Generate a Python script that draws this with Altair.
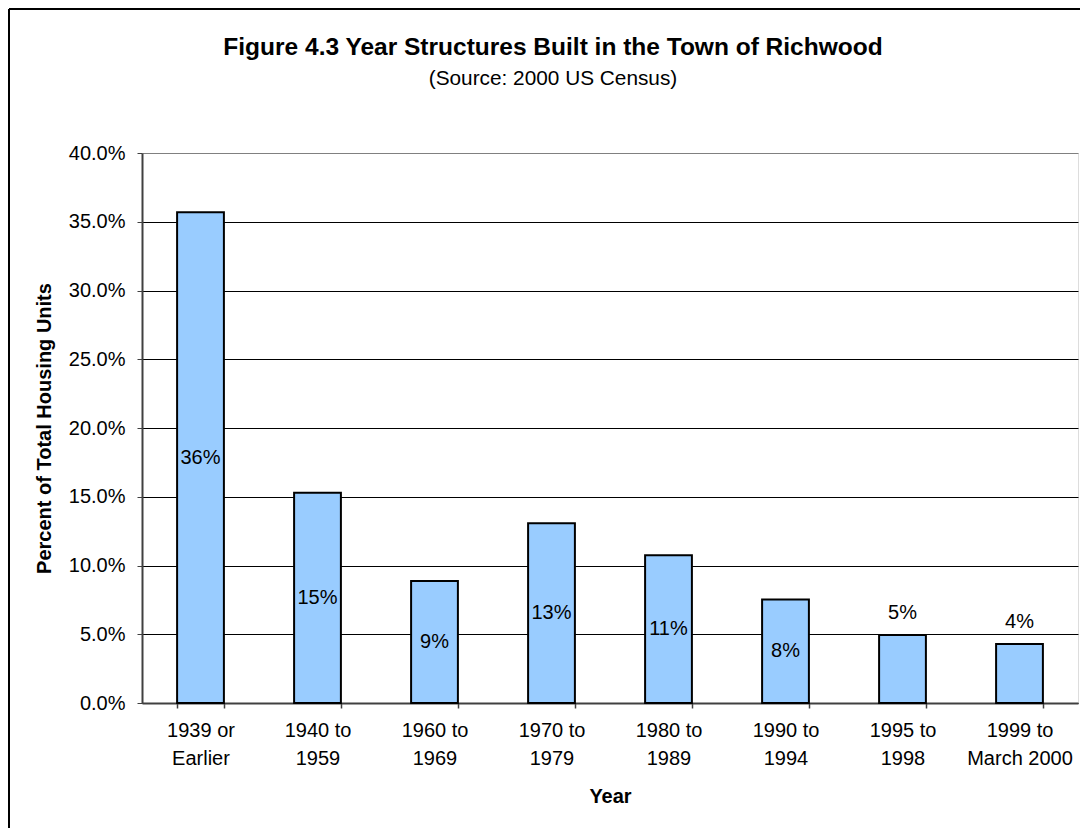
import altair as alt
import pandas as pd

categories = ["1939 or|Earlier", "1940 to|1959", "1960 to|1969", "1970 to|1979",
              "1980 to|1989", "1990 to|1994", "1995 to|1998", "1999 to|March 2000"]
shares = [0.357, 0.1529, 0.0887, 0.1307, 0.1074, 0.0752, 0.0495, 0.0429]
y_ticks = [0.0, 0.05, 0.10, 0.15, 0.20, 0.25, 0.30, 0.35, 0.40]

df = pd.DataFrame({"cat": categories, "share": shares})

FONT = "Liberation Sans"

base = alt.Chart(df)

x_enc = alt.X(
    "cat:N", sort=categories,
    scale=alt.Scale(paddingInner=0.6, paddingOuter=0.3),
    axis=alt.Axis(
        title="Year", labelAngle=0, tickBand="extent", tickSize=5,
        tickColor="#404040", tickWidth=1.5, domainColor="#404040", domainWidth=2,
        labelExpr="split(datum.label, '|')", labelLineHeight=28,
        labelFontSize=20, labelFont=FONT, labelColor="black", labelPadding=12,
        titleFontSize=20, titleFont=FONT, titleFontWeight="bold", titleColor="black",
        titlePadding=18,
    ),
)

bars = base.mark_bar(color="#99CCFF", stroke="black", strokeWidth=2).encode(
    x=x_enc,
    y=alt.Y(
        "share:Q",
        scale=alt.Scale(domain=[0, 0.4], nice=False),
        axis=alt.Axis(
            title="Percent of Total Housing Units", format=".1%", values=y_ticks,
            tickSize=5, tickColor="#404040", domainColor="#404040", domainWidth=2,
            labelFontSize=20, labelFont=FONT, labelColor="black", labelPadding=12,
            grid=True,
            gridColor=alt.condition("datum.value >= 0.399", alt.value("#808080"), alt.value("black")),
            gridWidth=1,
            titleFontSize=20, titleFont=FONT, titleFontWeight="bold", titleColor="black",
            titlePadding=14,
        ),
    ),
)

inside = base.transform_filter("datum.share >= 0.06").transform_calculate(
    mid="datum.share / 2"
).mark_text(fontSize=20, font=FONT, color="black", baseline="middle", align="center").encode(
    x=alt.X("cat:N", sort=categories),
    y=alt.Y("mid:Q"),
    text=alt.Text("share:Q", format=".0%"),
)

outside = base.transform_filter("datum.share < 0.06").mark_text(
    fontSize=20, font=FONT, color="black", baseline="middle", align="center", dy=-22
).encode(
    x=alt.X("cat:N", sort=categories),
    y=alt.Y("share:Q"),
    text=alt.Text("share:Q", format=".0%"),
)

frame_data = alt.Data(values=[{"k": 1}])
frame_left = alt.Chart(frame_data).mark_rule(color="black", strokeWidth=2).encode(
    x=alt.value(-133), y=alt.value(-144), y2=alt.value(1000)
)
frame_top = alt.Chart(frame_data).mark_rule(color="black", strokeWidth=2).encode(
    x=alt.value(-133), x2=alt.value(1200), y=alt.value(-144)
)

chart = alt.layer(frame_left, frame_top, bars, inside, outside).properties(
    width=936, height=550,
    title=alt.TitleParams(
        text="Figure 4.3 Year Structures Built in the Town of Richwood",
        subtitle="(Source: 2000 US Census)",
        font=FONT, fontSize=24.5, fontWeight="bold", color="black",
        subtitleFont=FONT, subtitleFontSize=20.8, subtitleColor="black",
        subtitlePadding=9, anchor="middle", frame="group", dx=-57, offset=-82,
    ),
    autosize=alt.AutoSizeParams(type="none"),
    padding={"left": 134, "top": 145, "right": 2, "bottom": 125},
).configure_view(stroke="#808080", strokeWidth=2.5).configure(background="white")

chart.save("out.html", embed_options={"renderer": "svg", "actions": False})
